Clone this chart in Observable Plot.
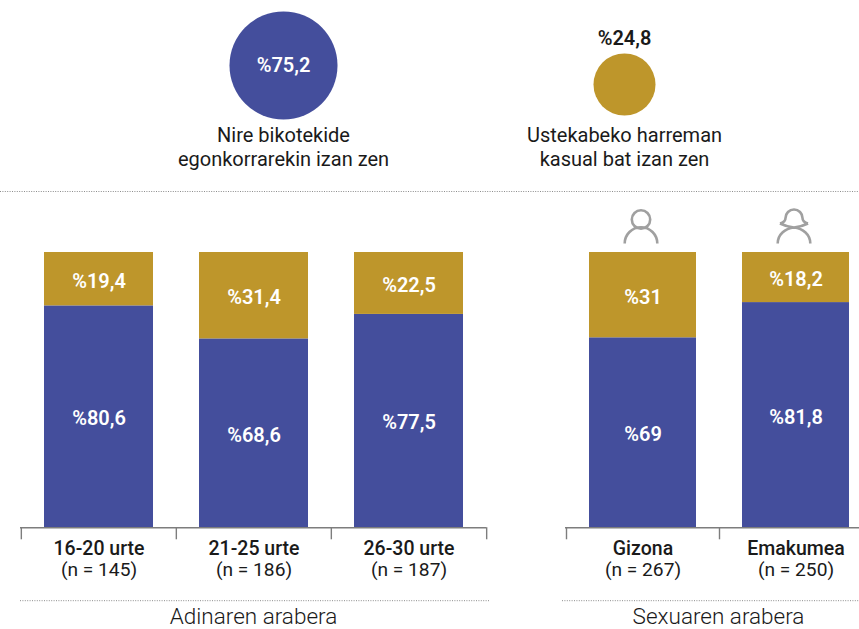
<!DOCTYPE html>
<html>
<head>
<meta charset="utf-8">
<script src="https://cdn.jsdelivr.net/npm/d3@7"></script>
<script src="https://cdn.jsdelivr.net/npm/@observablehq/plot@0.6"></script>
<style>
html,body{margin:0;padding:0;background:#fff;}
#chart{position:relative;width:859px;height:629px;overflow:hidden;font-family:Roboto,sans-serif;}
#chart svg{position:absolute;background:transparent;overflow:visible;}
</style>
</head>
<body>
<div id="chart"></div>
<script>
const overallLabels = ["Nire bikotekide\negonkorrarekin izan zen", "Ustekabeko harreman\nkasual bat izan zen"];
const overallValues = [75.2, 24.8];

const ageGroups = ["16-20 urte", "21-25 urte", "26-30 urte"];
const ageCounts = [145, 186, 187];
const agePartner = [80.6, 68.6, 77.5];
const ageCasual = [19.4, 31.4, 22.5];

const sexGroups = ["Gizona", "Emakumea"];
const sexCounts = [267, 250];
const sexPartner = [69, 81.8];
const sexCasual = [31, 18.2];

const blue = "#444e9c", gold = "#be962b", ink = "#1a1a1a", grey = "#a0a0a0", axisGrey = "#7d7d7d", dotGrey = "#8c8c8c";
const pct = v => "%" + String(v).replace(".", ",");

const rowsFor = (groups, partner, casual) => [
  ...groups.map((group, i) => ({group, kind: "partner", value: partner[i]})),
  ...groups.map((group, i) => ({group, kind: "casual", value: casual[i]}))
];

const manIcon = {draw(c) {
  c.moveTo(9.2, 0); c.arc(0, 0, 9.2, 0, 2 * Math.PI);
  c.moveTo(-16.3, 24); c.arc(0, 24, 16.3, Math.PI, 2 * Math.PI);
}};
const womanIcon = {draw(c) {
  c.moveTo(-14, 4);
  c.bezierCurveTo(-10, 3, -8.5, 1, -8.5, -1.5);
  c.arc(0, -1.5, 8.5, Math.PI, 2 * Math.PI);
  c.bezierCurveTo(8.5, 1, 10, 3, 14, 4);
  c.moveTo(-14, 4);
  c.bezierCurveTo(-10, 6, -4, 7.5, 0, 8);
  c.bezierCurveTo(9, 9, 16.3, 15, 16.3, 24);
  c.moveTo(14, 4);
  c.bezierCurveTo(10, 6, 4, 7.5, 0, 8);
  c.bezierCurveTo(-9, 9, -16.3, 15, -16.3, 24);
}};

function place(svg, left, top) {
  svg.style.left = left + "px";
  svg.style.top = top + "px";
  document.getElementById("chart").appendChild(svg);
}

const fontBase = {fontFamily: "Roboto, sans-serif"};

// Top panel: overall shares, with the dotted separator under it
place(Plot.plot({
  width: 859, height: 195, margin: 0,
  style: {background: "transparent", ...fontBase},
  x: {type: "point", domain: overallLabels, range: [283, 624], padding: 0, axis: null},
  y: {axis: null, domain: [0, 1], range: [191, 0]},
  r: {type: "sqrt", domain: [0, 75.2], range: [0, 54]},
  marks: [
    Plot.dot([0], {x: () => overallLabels[0], r: () => overallValues[0], fill: blue, frameAnchor: "top", dy: 65}),
    Plot.dot([1], {x: () => overallLabels[1], r: () => overallValues[1], fill: gold, frameAnchor: "top", dy: 84}),
    Plot.text([pct(overallValues[0])], {x: () => overallLabels[0], text: d => d, fill: "#fff", fontSize: 20, fontWeight: 600, frameAnchor: "top", lineAnchor: "middle", dy: 65}),
    Plot.text([pct(overallValues[1])], {x: () => overallLabels[1], text: d => d, fill: ink, fontSize: 20, fontWeight: 600, frameAnchor: "top", lineAnchor: "middle", dy: 38}),
    Plot.text(overallLabels, {x: d => d, text: d => d, fill: ink, fontSize: 20, lineHeight: 1.2, frameAnchor: "top", lineAnchor: "top", dy: 124}),
    Plot.ruleY([0], {stroke: dotGrey, strokeDasharray: "1 1.4"})
  ]
}), 0, 0);

// Stacked panels
function panel({groups, counts, partner, casual, title, range, width, left, marginLeft, marginRight, insetLeft, insetRight, titleDx, icons}) {
  const rows = rowsFor(groups, partner, casual);
  const half = (range[1] - range[0]) / groups.length / 2;
  const textMark = (fn, opts) => Plot.text(groups, {x: d => d, y: () => 0, text: fn, fill: ink, lineAnchor: "middle", ...opts});
  place(Plot.plot({
    width, height: 439, marginLeft, marginRight, marginTop: 62, marginBottom: 0,
    style: {background: "transparent", ...fontBase},
    x: {type: "band", domain: groups, range, paddingInner: 0.3, paddingOuter: 0.15, axis: null},
    y: {domain: [-37, 100], range: [439, 62], axis: null},
    marks: [
      Plot.barY(rows, Plot.stackY({x: "group", y: "value", z: "kind", fill: d => d.kind === "partner" ? blue : gold})),
      Plot.text(rows, Plot.stackY({x: "group", y: "value", z: "kind", text: d => pct(d.value), fill: "#fff", fontSize: 20, fontWeight: 600, dy: 2})),
      Plot.ruleY([0], {stroke: axisGrey, strokeWidth: 1.4}),
      Plot.ruleX(groups, {x: d => d, y1: 0, y2: -4.4, dx: -half, stroke: axisGrey, strokeWidth: 1.4}),
      Plot.ruleX(groups.slice(-1), {x: d => d, y1: 0, y2: -4.4, dx: half, stroke: axisGrey, strokeWidth: 1.4}),
      textMark(d => d, {fontWeight: 500, fontSize: 19.5, dy: 21}),
      textMark((d, i) => `(n = ${counts[i]})`, {fontSize: 19.2, dy: 42}),
      Plot.ruleY([0], {dy: 73, stroke: dotGrey, strokeDasharray: "1 1.4", insetLeft, insetRight}),
      Plot.text([title], {text: d => d, frameAnchor: "bottom", lineAnchor: "middle", dy: -13, dx: titleDx, fill: ink, fontSize: 22.5, fontWeight: 300}),
      ...(icons ? icons.map((sym, i) => Plot.dot([groups[i]], {x: d => d, y: () => 100, dy: -33, dx: -2, symbol: sym, r: 5, stroke: grey, strokeWidth: 2.6, fill: "none"})) : [])
    ]
  }), left, 190);
}

panel({groups: ageGroups, counts: ageCounts, partner: agePartner, casual: ageCasual, title: "Adinaren arabera",
  range: [20, 486], width: 540, left: 0, marginLeft: 20, marginRight: 54, insetLeft: 0, insetRight: -3, titleDx: 0});
panel({groups: sexGroups, counts: sexCounts, partner: sexPartner, casual: sexCasual, title: "Sexuaren arabera",
  range: [26, 332], width: 319, left: 540, marginLeft: 25, marginRight: 0, insetLeft: -3, insetRight: 0, titleDx: 6, icons: [manIcon, womanIcon]});
</script>
</body>
</html>
